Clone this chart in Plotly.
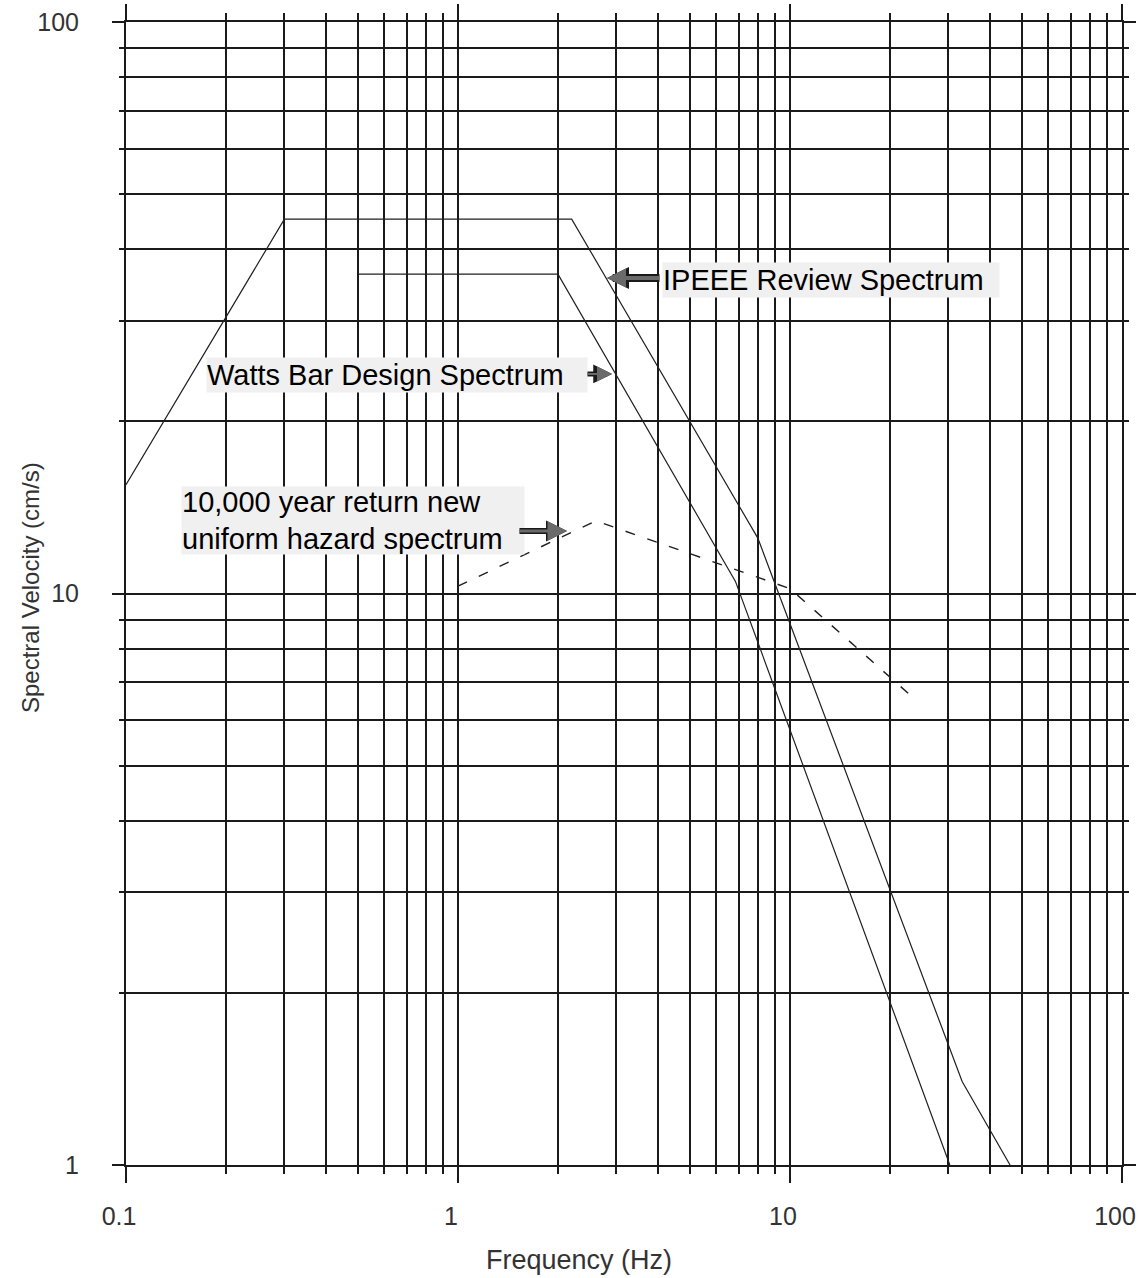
import math
import plotly.graph_objects as go

# ---------------- data ----------------
ipeee_freq = [0.1, 0.3, 2.2, 8.0, 33.0, 46.0]
ipeee_vel = [15.5, 45.2, 45.2, 12.5, 1.40, 1.0]

watts_freq = [0.5, 2.0, 6.85, 30.3]
watts_vel = [36.2, 36.2, 10.5, 1.0]

uhs_freq = [1.0, 2.6, 10.0, 23.3]
uhs_vel = [10.3, 13.4, 10.2, 6.6]

x_major = [0.1, 1, 10, 100]
x_major_text = ["0.1", "1", "10", "100"]
y_major = [1, 10, 100]
y_major_text = ["1", "10", "100"]

GRID = "#1a1a1a"
LINE = "#202020"
FONT = "Liberation Sans, Arial, sans-serif"


def minor_vals(lo_exp, hi_exp):
    vals = []
    for e in range(lo_exp, hi_exp):
        for d in range(2, 10):
            vals.append(d * 10 ** e)
    return vals


fig = go.Figure()
fig.add_trace(go.Scatter(x=ipeee_freq, y=ipeee_vel, mode="lines",
                         line=dict(color=LINE, width=1.2), name="IPEEE Review Spectrum"))
fig.add_trace(go.Scatter(x=watts_freq, y=watts_vel, mode="lines",
                         line=dict(color=LINE, width=1.2), name="Watts Bar Design Spectrum"))
fig.add_trace(go.Scatter(x=uhs_freq, y=uhs_vel, mode="lines",
                         line=dict(color=LINE, width=1.4, dash="10px,13px"),
                         name="10,000 year return new uniform hazard spectrum"))

axis_common = dict(
    type="log",
    automargin=False,
    ticks="outside",
    tickwidth=2,
    tickcolor=GRID,
    showgrid=True,
    gridcolor=GRID,
    gridwidth=2,
    showline=True,
    linecolor=GRID,
    linewidth=2,
    mirror="allticks",
    zeroline=False,
    ticklabeloverflow="allow",
    tickfont=dict(family=FONT, size=25, color="#333333"),
)

fig.update_xaxes(
    **axis_common,
    range=[-1, 2],
    tickvals=x_major,
    ticktext=x_major_text,
    ticklen=16,
    ticklabelstandoff=12,
    ticklabelshift=-7,
    minor=dict(tickvals=minor_vals(-1, 2), ticks="outside", ticklen=7,
               tickwidth=2, tickcolor=GRID, showgrid=True, gridcolor=GRID, gridwidth=2),
)
fig.update_yaxes(
    **axis_common,
    range=[0, 2],
    tickvals=y_major,
    ticktext=y_major_text,
    ticklen=12,
    ticklabelstandoff=28,
    minor=dict(tickvals=minor_vals(0, 2), ticks="outside", ticklen=5,
               tickwidth=2, tickcolor=GRID, showgrid=True, gridcolor=GRID, gridwidth=2),
)

ann_font = dict(family=FONT, size=29, color="#000000")
BOX = "#f0f0f0"

annotations = [
    # text boxes
    dict(x=0.6145, y=1.580, xref="x", yref="y", xanchor="left", yanchor="top",
         text="IPEEE Review Spectrum", showarrow=False, align="left",
         width=336, height=34, bgcolor=BOX, borderpad=0, font=ann_font),
    dict(x=-0.759, y=1.4138, xref="x", yref="y", xanchor="left", yanchor="top",
         text="Watts Bar Design Spectrum", showarrow=False, align="left",
         width=380, height=34, bgcolor=BOX, borderpad=0, font=ann_font),
    dict(x=-0.8343, y=1.1881, xref="x", yref="y", xanchor="left", yanchor="top",
         text="10,000 year return new<br>uniform hazard spectrum", showarrow=False,
         align="left", width=342, height=67, bgcolor=BOX, borderpad=0, font=ann_font),
    # axis titles
    dict(x=(579 - 126) / 996, y=-(1260 - 1165) / 1143, xref="paper", yref="paper",
         text="Frequency (Hz)", showarrow=False, xanchor="center", yanchor="middle",
         font=dict(family=FONT, size=27, color="#333333")),
    dict(x=-(126 - 30) / 996, y=(1165 - 588) / 1143, xref="paper", yref="paper",
         text="Spectral Velocity (cm/s)", showarrow=False, textangle=-90,
         xanchor="center", yanchor="middle",
         font=dict(family=FONT, size=24, color="#333333")),
]

# block arrows: black outline arrow + grey inner arrow
arrows = [
    # (head_logx, head_logy, tail_logx, outer width, inner width, outer size, inner size)
    (0.4488, 1.552, 0.6114, 8, 4, 0.55, 0.95),
    (0.4639, 1.3841, 0.3855, 5, 2, 0.75, 1.5),
    (0.3283, 1.1094, 0.1807, 6, 3, 0.7, 1.3),
]
for hx, hy, tx, wo, wi, so, si in arrows:
    for col, w, s in ((GRID, wo, so), ("#6a6a6a", wi, si)):
        annotations.append(dict(
            x=hx, y=hy, ax=tx, ay=hy, xref="x", yref="y", axref="x", ayref="y",
            text="", showarrow=True, arrowhead=2, arrowsize=s, arrowwidth=w,
            arrowcolor=col, standoff=0, startstandoff=0))

fig.update_layout(
    width=1142,
    height=1278,
    margin=dict(l=126, r=20, t=22, b=113, autoexpand=False),
    paper_bgcolor="white",
    plot_bgcolor="white",
    showlegend=False,
    annotations=annotations,
)

fig.write_html("out.html")
